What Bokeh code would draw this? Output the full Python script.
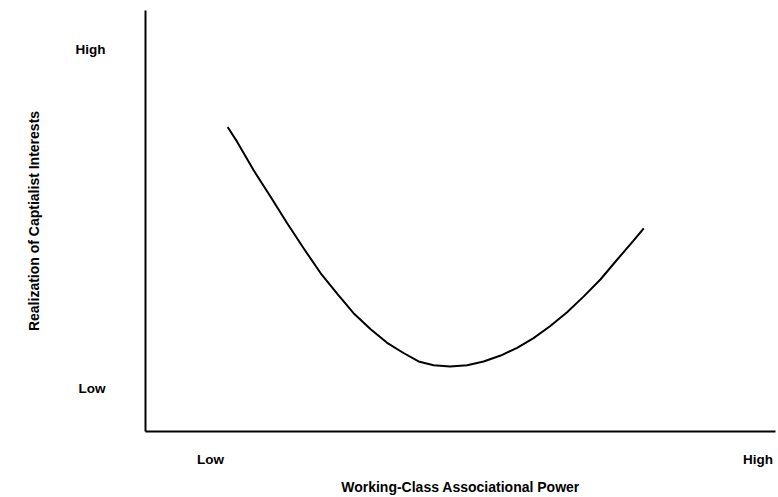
from bokeh.plotting import figure
from bokeh.models import Range1d, FixedTicker
from bokeh.embed import file_html
from bokeh.resources import INLINE

# Conceptual scale: Low = 1, High = 9 on both axes
x_ticks = [1, 9]
y_ticks = [1, 9]
tick_labels = {1: "Low", 9: "High"}

# curve
power = [1.25, 1.39, 1.63, 1.88, 2.12, 2.36, 2.61, 2.85, 3.09, 3.34, 3.58, 3.82, 4.04,
         4.26, 4.50, 4.75, 4.99, 5.24, 5.48, 5.72, 5.96, 6.21, 6.45, 6.70, 6.94, 7.18, 7.33]
interests = [7.17, 6.82, 6.15, 5.52, 4.90, 4.31, 3.72, 3.24, 2.78, 2.40, 2.08, 1.84, 1.64,
             1.55, 1.52, 1.55, 1.64, 1.78, 1.96, 2.19, 2.47, 2.80, 3.17, 3.58, 4.04, 4.49, 4.78]

FONT = "Liberation Sans"

p = figure(width=778, height=497, output_backend="svg", toolbar_location=None,
           x_range=Range1d(0.050, 9.255), y_range=Range1d(-0.012, 9.92),
           min_border_left=145, min_border_right=3, min_border_top=10, min_border_bottom=65)

p.line(power, interests, line_color="black", line_width=2)

p.xgrid.visible = False
p.ygrid.visible = False
p.outline_line_color = None
p.background_fill_color = "white"
p.border_fill_color = "white"

for ax in (p.xaxis[0], p.yaxis[0]):
    ax.axis_line_width = 2
    ax.axis_line_color = "black"
    ax.major_tick_line_color = None
    ax.minor_tick_line_color = None
    ax.major_tick_out = 0
    ax.major_tick_in = 0
    ax.minor_tick_out = 0
    ax.major_label_text_font = FONT
    ax.major_label_text_font_style = "bold"
    ax.major_label_text_font_size = "13.5px"
    ax.major_label_text_color = "black"
    ax.axis_label_text_font = FONT
    ax.axis_label_text_font_style = "bold"
    ax.axis_label_text_font_size = "14px"
    ax.axis_label_text_color = "black"

p.xaxis[0].ticker = FixedTicker(ticks=x_ticks)
p.yaxis[0].ticker = FixedTicker(ticks=y_ticks)
p.xaxis[0].major_label_overrides = tick_labels
p.yaxis[0].major_label_overrides = tick_labels
p.yaxis[0].major_label_orientation = "horizontal"

p.xaxis[0].axis_label = "Working-Class Associational Power"
p.yaxis[0].axis_label = "Realization of Captialist Interests"

p.xaxis[0].major_label_standoff = 20
p.xaxis[0].axis_label_standoff = 9
p.yaxis[0].major_label_standoff = 40
p.yaxis[0].axis_label_standoff = 31

open("out.html", "w").write(file_html(p, INLINE))
